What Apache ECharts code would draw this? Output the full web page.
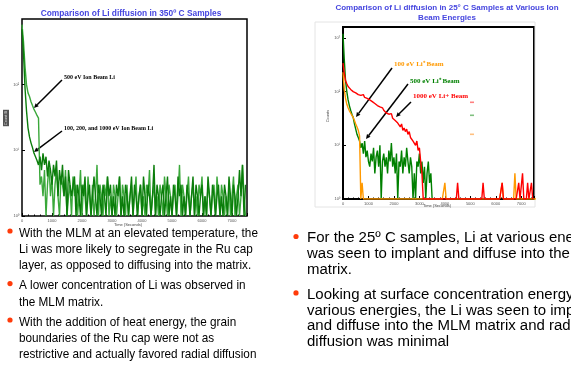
<!DOCTYPE html>
<html>
<head>
<meta charset="utf-8">
<script src="https://cdn.jsdelivr.net/npm/echarts@6/dist/echarts.min.js"></script>
<style>
html, body { margin: 0; padding: 0; background: #fff; }
#main { width: 571px; height: 369px; }
</style>
</head>
<body>
<div id="main"></div>
<script>
// counts were logged every STEP seconds
var STEP = 50;

// 350 C samples (left plot)
var hot500 = [820,450,190,100,75,66,55,48,42,38,34,31,3,
  4,2,5,1,3,6,2,4,1,3,5,2,1,4,3,2,5,1,2,3,
  1,4,2,3,1,2,5,1,3,2,1,4,2,1,3,1,2,6,1,3,
  2,1,3,2,4,1,2,1,3,2,1,2,4,1,3,2,1,3,1,2,
  3,1,2,4,1,2,3,1,2,1,3,2,5,1,2,3,1,2,1,3,
  2,1,4,2,1,3,2,1,2,3,1,2,6,1,3,2,1,2,4,1,
  2,3,1,2,1,3,2,4,1,2,1,3,2,1,2,3,1,4,2,1,
  3,2,1,2,1,3,1,2,4,1,2,3,1,2,6,2,1];
var hotOther = [700,300,90,40,22,16,13,11,9,8,7,6,8,5,
  9,6,8,4,7,5,3,6,4,7,2,5,3,6,2,4,1,5,3,2,
  2,4,1,3,2,1,3,2,4,1,2,3,1,2,4,2,1,3,2,1,
  3,2,1,4,2,3,1,2,1,3,2,4,1,2,1,3,2,1,2,4,
  1,3,2,1,2,3,1,4,2,1,3,2,1,2,6,1,3,2,1,2,
  3,1,2,4,1,2,1,3,2,1,4,2,3,1,2,1,3,2,1,2,
  4,1,3,2,1,2,3,1,2,1,4,2,1,3,2,1,2,3,1,2,
  1,3,2,1,4,2,1,3,2,1,2,5,2,6,1,3];

// 25 C samples (right plot)
var cold100 = [230,110,75,58,50,44,40,36,33,29,25,22,19,15,
  1,2,1,1,1,1,1,1,1,1,1,1,1,1,1,1,1,1,1,1,1,1,1,1,1,1,
  1,1,1,1,1,1,1,1,1,1,1,1,1,1,1,1,1,1,1,1,1,1,1,1,1,1,
  1,1,1,1,1,1,1,1,1,1,1,1,1,1,2,1,1,1,1,1,1,1,1,1,
  1,1,1,1,1,1,1,1,1,1,1,1,1,1,1,1,1,1,1,1,
  1,1,1,1,1,1,1,1,1,1,1,1,1,1,1,2,1,1,1,1,
  1,1,1,1,1,3,1,1,1,1,1,1,1,1,1,1,1,1,1,1,
  1,1,1,1,1,1,1,1,1,1];
var cold500 = [1200,400,160,100,70,55,45,38,33,25,
  20,16,14,12,9,11,7,12,6,8,
  5,4,7,5,9,3,6,8,4,10,
  1,5,7,4,6,3,8,5,11,4,
  6,3,7,1,5,4,8,3,6,4,
  9,5,3,6,4,1,3,1,5,4,
  7,3,5,2,4,1,3,5,2,3,1];
var cold1000 = [340,220,160,140,125,118,110,115,100,105,
  95,98,88,92,85,82,88,78,80,75,
  78,70,72,65,68,60,63,55,58,52,
  48,50,45,47,40,42,38,35,39,32,
  34,29,31,26,24,22,25,19,21,18,
  20,16,18,14,15,12,13,10,12,8,
  9,5,3,1,1,1,1,1,1,1,
  1,1,1,1,1,1,1,1,1,1,
  1,1,1,1,1,1,1,1,1,1,
  2,1,1,1,1,1,1,1,1,1,
  1,1,1,1,1,1,1,1,1,1,
  2,1,1,1,1,1,1,1,1,1,
  1,1,1,1,1,2,1,1,1,1,
  1,1,1,1,1,1,1,1,2,1,
  1,3,1,1,1,2,1,1,2,1];

var leftBullets = [
  ['With the MLM at an elevated temperature, the',
   'Li was more likely to segregate in the Ru cap',
   'layer, as opposed to diffusing into the matrix.'],
  ['A lower concentration of Li was observed in',
   'the MLM matrix.'],
  ['With the addition of heat energy, the grain',
   'boundaries of the Ru cap were not as',
   'restrictive and actually favored radial diffusion']
];
var rightBullets = [
  ['For the 25º C samples, Li at various energies',
   'was seen to implant and diffuse into the MLM',
   'matrix.'],
  ['Looking at surface concentration energy at',
   'various energies, the Li was seen to implant',
   'and diffuse into the MLM matrix and radial',
   'diffusion was minimal']
];

function pairs(arr) {
  return arr.map(function (v, i) { return [i * STEP, v]; });
}
var SUP = ['⁰','¹','²','³'];
function powLabel(v) {
  var e = Math.round(Math.log(v) / Math.LN10);
  return '10' + (SUP[e] || '');
}

function txt(x, y, s, font, fill, extra) {
  var el = { type: 'text', x: x, y: y, silent: true,
    style: { text: s, font: font, fill: fill, align: 'left', verticalAlign: 'middle' } };
  if (extra) for (var k in extra) {
    if (k === 'style') { for (var j in extra.style) el.style[j] = extra.style[j]; }
    else el[k] = extra[k];
  }
  return el;
}
function arrow(x1, y1, x2, y2) {
  var a = Math.atan2(y2 - y1, x2 - x1), L = 4.5, W = 2.2;
  var bx = x2 - L * Math.cos(a), by = y2 - L * Math.sin(a);
  return [
    { type: 'line', silent: true, shape: { x1: x1, y1: y1, x2: bx, y2: by },
      style: { stroke: '#000', lineWidth: 1.5 } },
    { type: 'polygon', silent: true,
      shape: { points: [[x2, y2], [bx + W * Math.sin(a), by - W * Math.cos(a)], [bx - W * Math.sin(a), by + W * Math.cos(a)]] },
      style: { fill: '#000' } }
  ];
}
function bullets(groups, x, dotX, startY, lineH, gap, font, sx) {
  var out = [], y = startY;
  groups.forEach(function (g) {
    out.push({ type: 'circle', silent: true, shape: { cx: dotX, cy: y - 2, r: 2.6 }, style: { fill: '#ff3b0a' } });
    g.forEach(function (line) {
      out.push(txt(x, y, line, font, '#000', { scaleX: sx }));
      y += lineH;
    });
    y += gap;
  });
  return out;
}

var axisLbl = { fontSize: 4, color: '#555', margin: 3, fontFamily: 'Liberation Sans' };
function xAx(grid) {
  return { type: 'value', gridIndex: grid, min: 0, max: 7500, interval: 1000,
    axisLine: { show: false }, splitLine: { show: false },
    axisTick: { inside: true, length: 3, lineStyle: { color: '#000' } },
    minorTick: { show: true, splitNumber: 5, length: 1.5, lineStyle: { color: '#000' } },
    axisLabel: Object.assign({ showMaxLabel: false, formatter: function (v) { return String(v); } }, axisLbl) };
}
function yAx(grid, max) {
  return { type: 'log', logBase: 10, gridIndex: grid, min: 1, max: max,
    axisLine: { show: false }, splitLine: { show: false },
    axisTick: { inside: true, length: 3, lineStyle: { color: '#000' } },
    axisLabel: Object.assign({ formatter: powLabel, showMaxLabel: false }, axisLbl) };
}
function ser(name, arr, x, color, w) {
  return { name: name, type: 'line', xAxisIndex: x, yAxisIndex: x, data: pairs(arr),
    showSymbol: false, symbol: 'none', lineStyle: { color: color, width: w }, itemStyle: { color: color } };
}

var graphic = [
  { type: 'rect', silent: true, shape: { x: 315, y: 22, width: 220, height: 185 },
    style: { fill: 'none', stroke: '#e4e4e4', lineWidth: 1 } },
  txt(131, 14, 'Comparison of Li diffusion in 350º C Samples', 'bold 9px Liberation Sans', '#4545df', { scaleX: 0.93, style: { align: 'center' } }),
  txt(447, 7.5, 'Comparison of Li diffusion in 25° C Samples at Various Ion', 'bold 8px Liberation Sans', '#4545df', { style: { align: 'center' } }),
  txt(447, 17.5, 'Beam Energies', 'bold 8px Liberation Sans', '#4545df', { style: { align: 'center' } }),
  // left annotations
  txt(64, 77, '500 eV Ion Beam Li', 'bold 6px Liberation Serif', '#000'),
  txt(64, 128, '100, 200, and 1000 eV Ion Beam Li', 'bold 6px Liberation Serif', '#000'),
  // right annotations
  txt(394, 64, '100 eV Li⁺ Beam', 'bold 7px Liberation Serif', '#ff9900'),
  txt(410, 81, '500 eV Li⁺ Beam', 'bold 7px Liberation Serif', '#008000'),
  txt(413, 96, '1000 eV Li+ Beam', 'bold 7px Liberation Serif', '#ff0000'),
  // tiny legend swatches
  { type: 'rect', silent: true, shape: { x: 470, y: 101.5, width: 4, height: 1.6 }, style: { fill: '#ff8080' } },
  { type: 'rect', silent: true, shape: { x: 470, y: 114.5, width: 4, height: 1.6 }, style: { fill: '#80c080' } },
  { type: 'rect', silent: true, shape: { x: 470, y: 133.5, width: 4, height: 1.6 }, style: { fill: '#ffc080' } },
  // axis names
  txt(6, 118, 'Count B', '4px Liberation Sans', '#ddd', { rotation: Math.PI / 2,
    style: { align: 'center', backgroundColor: '#555', padding: [1, 1] } }),
  txt(328, 116, 'Counts', '4px Liberation Sans', '#444', { rotation: Math.PI / 2, style: { align: 'center' } }),
  txt(128, 224.5, 'Time (Seconds)', '4px Liberation Sans', '#444', { style: { align: 'center' } }),
  txt(437, 206, 'Time (Seconds)', '4px Liberation Sans', '#444', { style: { align: 'center' } })
];
graphic = graphic
  .concat(arrow(62, 80, 34, 108))
  .concat(arrow(62, 131, 34, 152))
  .concat(arrow(392, 68, 356, 117))
  .concat(arrow(408, 84, 366, 139))
  .concat(arrow(411, 102, 396, 117))
  .concat(bullets(leftBullets, 19, 10, 233, 16.2, 4, '13.5px Liberation Sans', 0.87))
  .concat(bullets(rightBullets, 307, 296, 238.5, 15.8, 9, '14px Liberation Sans', 1.07));

var chart = echarts.init(document.getElementById('main'));
chart.setOption({
  animation: false,
  backgroundColor: '#fff',
  grid: [
    { left: 22, top: 19, width: 225, height: 197, show: true, borderColor: '#000', borderWidth: 1.5, backgroundColor: '#fff' },
    { left: 343, top: 27, width: 191, height: 172, show: true, borderColor: '#000', borderWidth: 2, backgroundColor: '#fff' }
  ],
  xAxis: [xAx(0), xAx(1)],
  yAxis: [yAx(0, 1000), yAx(1, 1600)],
  series: [
    ser('500 eV Ion Beam Li', hot500, 0, '#3aa83a', 1.4),
    ser('100, 200, and 1000 eV Ion Beam Li', hotOther, 0, '#0b7d0b', 1.4),
    ser('500 eV Li+ Beam', cold500, 1, '#008000', 1.4),
    ser('100 eV Li+ Beam', cold100, 1, '#ff9900', 1.4),
    ser('1000 eV Li+ Beam', cold1000, 1, '#ff0000', 1.4)
  ],
  graphic: graphic
});
</script>
</body>
</html>
